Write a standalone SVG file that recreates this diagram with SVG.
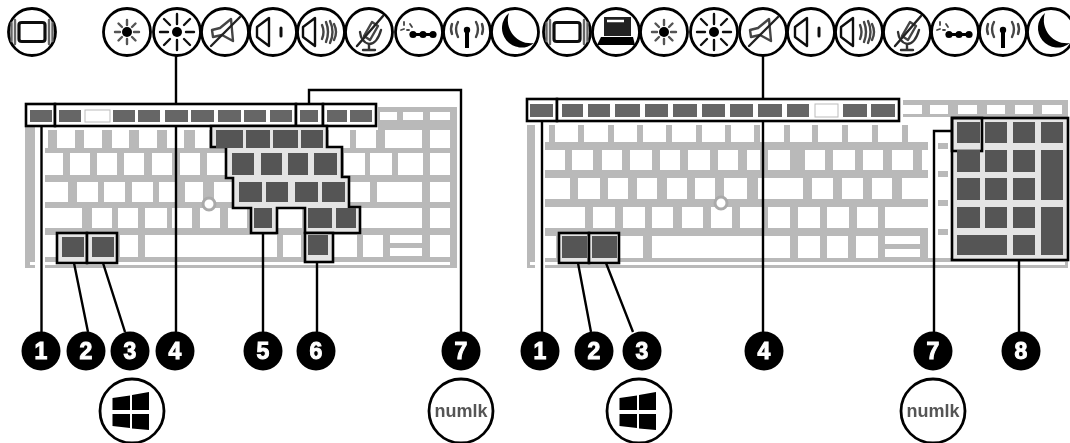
<svg xmlns="http://www.w3.org/2000/svg" xmlns:xlink="http://www.w3.org/1999/xlink" width="1070" height="443" viewBox="0 0 1070 443">
<style>
.g{fill:#b9b9b9}.k{fill:#fff}.d{fill:#555}.f{fill:#666}
.box{fill:#e4e4e4;stroke:#000;stroke-width:2.6}
.con{fill:none;stroke:#000;stroke-width:2.4}
.ring{fill:#fff;stroke:#000;stroke-width:2.8}
.ln{fill:none;stroke:#111;stroke-width:2.4;stroke-linecap:round;stroke-linejoin:round}
.badge{fill:#000}
.num{font-family:"Liberation Sans",Arial,sans-serif;font-weight:700;font-size:23px;fill:#fff;stroke:#fff;stroke-width:1;text-anchor:middle}
.lk{font-family:"Liberation Sans",Arial,sans-serif;font-weight:700;font-size:18px;fill:#555;text-anchor:middle}
</style>
<defs>
<filter id="soft" x="0" y="0" width="100%" height="100%" filterUnits="userSpaceOnUse" primitiveUnits="userSpaceOnUse"><feGaussianBlur stdDeviation="0.6"/></filter>
<g id="i-base"><circle r="23.5" class="ring"/></g>
<g id="i-display"><use href="#i-base"/><rect x="-13" y="-9.500" width="26" height="19" rx="2.500" class="ln" style="stroke-width:3.2"/><path d="M-17-12V12M-20.500-9V9M17-12V12M20.500-9V9" class="ln" style="stroke:#666"/></g>
<g id="i-laptop"><use href="#i-base"/><path d="M-12-15H15V4H-12Z" fill="#222"/><path d="M-9-11H8" stroke="#fff" stroke-width="2.500"/><path d="M-15 5H17L19 13H-19Z" fill="#000"/></g>
<g id="i-sunlo"><use href="#i-base"/><circle r="5" fill="#000"/><path d="M0-7V-12M0 7V12M-7 0H-12M7 0H12M-5-5L-8.500-8.500M5 5L8.500 8.500M5-5L8.500-8.500M-5 5L-8.500 8.500" class="ln" style="stroke:#555"/></g>
<g id="i-sunhi"><use href="#i-base"/><circle r="5" fill="#000"/><path d="M0-8V-18M0 8V18M-9 0H-17M9 0H17M-7-7L-13-13M7 7L13 13M7-7L13-13M-7 7L-13 13" class="ln"/></g>
<g id="i-mute"><use href="#i-base"/><path d="M-13-2L-5-4L6-13L8 9L-3 3L-12 5Z" class="ln" style="stroke:#444"/><path d="M-14 14L15-15" class="ln" style="stroke:#222"/></g>
<g id="i-vold"><use href="#i-base"/><path d="M-16-5L-4-14V14L-16 5Z" class="ln"/><path d="M8-4V4" class="ln" style="stroke-width:3"/></g>
<g id="i-volu"><use href="#i-base"/><path d="M-18-5L-6-14V14L-18 5Z" class="ln"/><path d="M1-7Q4 0 1 7M5-10Q9 0 5 10M9-11Q14 0 9 11M13-8Q17 0 13 8" class="ln" style="stroke:#444"/></g>
<g id="i-mic"><use href="#i-base"/><path d="M-5 4L3-10L9-6L1 8Z" class="ln" style="stroke:#444"/><path d="M-9 0Q-8 10 0 12Q8 12 12-2M0 12V17M-6 18H6" class="ln" style="stroke:#333"/><path d="M-12 14L14-16" class="ln" style="stroke:#222"/></g>
<g id="i-kbd"><use href="#i-base"/><circle cx="-6" cy="2.500" r="3.600"/><circle cx="4" cy="2.500" r="3.600"/><circle cx="14" cy="2.500" r="3.600"/><path d="M-6 2.500H14" stroke="#000" stroke-width="3"/><path d="M-9-8L-7-5M-15-10L-15-7M-18-2L-15-3M-12-2L-10-2" class="ln" style="stroke:#444;stroke-width:1.800"/></g>
<g id="i-wifi"><use href="#i-base"/><circle cy="-2" r="3.200" fill="#000"/><path d="M0 0V16" stroke="#000" stroke-width="4"/><path d="M-9-10Q-13-3-9 5M-15-8Q-17-3-15 2M9-10Q13-3 9 5M15-8Q17-3 15 2" class="ln" style="stroke:#444"/></g>
<g id="i-moon"><use href="#i-base"/><path d="M-6-19A19.500 19.500 0 1 0 19 11A23 23 0 0 1-6-19Z" fill="#000"/></g>
<g id="i-win"><circle r="32" class="ring"/><path d="M-19.500-13L-2-15.500V-1H-19.500ZM0-16L17-19V-1H0ZM-19.500 3H-2V17L-19.500 15ZM0 3H17V19L0 17.500Z" fill="#000"/></g>
<g id="i-numlk"><circle r="32" class="ring"/><text y="6" class="lk">numlk</text></g>
</defs>
<rect width="1070" height="443" fill="#fff"/>
<g filter="url(#soft)">
<g id="keyboard-left">
<rect class="g" x="25" y="125" width="10" height="143"/>
<rect class="g" x="45" y="130" width="412" height="138"/>
<rect class="g" x="378" y="107" width="79" height="23"/>
<rect class="k" x="30" y="262" width="420" height="3"/>
<path class="k" d="M380 112h17v8h-17zM403 112h20v8h-20zM430 112h20v8h-20zM37 130h11v18h-11zM57 130h18v18h-18zM84 130h18v18h-18zM112 130h17v18h-17zM139 130h18v18h-18zM167 130h17v18h-17zM195 130h14v18h-14zM329 130h21v18h-21zM356 130h20v18h-20zM385 130h37v18h-37zM430 130h20v18h-20z"/>
<path class="k" d="M37 153h26v22h-26zM70 153h20v22h-20zM97 153h20v22h-20zM124 153h20v22h-20zM152 153h20v22h-20zM180 153h20v22h-20zM207 153h18v22h-18zM344 153h21v22h-21zM370 153h22v22h-22zM398 153h25v22h-25zM430 153h20v22h-20z"/>
<path class="k" d="M37 182h31v20h-31zM77 182h21v20h-21zM104 182h21v20h-21zM132 182h21v20h-21zM159 182h18v20h-18zM185 182h18v20h-18zM214 182h18v20h-18zM350 182h20v20h-20zM377 182h45v20h-45zM430 182h20v20h-20z"/>
<path class="k" d="M37 208h45v20h-45zM92 208h20v20h-20zM118 208h20v20h-20zM145 208h22v20h-22zM172 208h20v20h-20zM200 208h20v20h-20zM228 208h19v20h-19zM278 208h24v20h-24zM360 208h62v20h-62zM430 208h20v20h-20z"/>
<path class="k" d="M37 235h20v22h-20zM120 235h18v22h-18zM145 235h132v22h-132zM283 235h18v22h-18zM333 235h24v22h-24zM363 235h20v22h-20zM390 235h32v8h-32zM390 248h32v8h-32zM430 235h20v22h-20z"/>
<circle cx="209" cy="204" r="6" fill="#fff" stroke="#aaa" stroke-width="3"/>
<rect class="box" x="26" y="104" width="29" height="22" style="fill:#fff"/><rect class="box" x="55" y="104" width="241" height="22" style="fill:#fff"/><rect class="box" x="296" y="104" width="27" height="22" style="fill:#fff"/><rect class="box" x="323" y="104" width="53" height="22" style="fill:#fff"/>
<path class="box" d="M211 126V147H226V178H233V208H251V233H277V208H305V233H360V207H349V177H342V147H327V126Z"/>
<rect class="box" x="305" y="233" width="28" height="29"/>
<rect class="box" x="57" y="233" width="30" height="30"/><rect class="box" x="87" y="233" width="30" height="30"/>
<path class="f" d="M30 110h22v12h-22zM59 110h22v12h-22zM113 110h22v12h-22zM138 110h22v12h-22zM165 110h23v12h-23zM191 110h23v12h-23zM218 110h23v12h-23zM244 110h22v12h-22zM270 110h22v12h-22zM300 110h18v12h-18zM327 110h20v12h-20zM350 110h22v12h-22z"/>
<rect x="85" y="110" width="25" height="12" fill="#fff" stroke="#bbb"/>
<path class="d" d="M216 130h27v18h-27zM246 130h24v18h-24zM273 130h25v18h-25zM301 130h22v18h-22zM232 153h22v22h-22zM261 153h21v22h-21zM288 153h20v22h-20zM314 153h23v22h-23zM239 182h23v20h-23zM266 182h22v20h-22zM295 182h23v20h-23zM322 182h23v20h-23zM254 208h18v20h-18zM308 208h24v20h-24zM336 208h20v20h-20zM308 235h20v20h-20zM62 237h22v20h-22zM92 237h22v20h-22z"/>
</g>
<g id="keyboard-right">
<rect class="g" x="527" y="125" width="8" height="143"/>
<rect class="g" x="545" y="125" width="523" height="143"/>
<rect class="g" x="903" y="100" width="165" height="25"/>
<rect class="k" x="530" y="262" width="535" height="3"/>
<path class="k" d="M903 105h19v9h-19zM930 105h18v9h-18zM958 105h19v9h-19zM987 105h18v9h-18zM1015 105h18v9h-18zM1042 105h20v9h-20zM903 117h49v8h-49z"/>
<path class="k" d="M536 125h13v17h-13zM555 125h23v17h-23zM584 125h24v17h-24zM614 125h23v17h-23zM643 125h23v17h-23zM672 125h24v17h-24zM702 125h23v17h-23zM731 125h23v17h-23zM760 125h24v17h-24zM790 125h22v17h-22zM818 125h24v17h-24zM848 125h24v17h-24zM878 125h24v17h-24zM908 125h44v17h-44z"/>
<path class="k" d="M536 150h29v20h-29zM572 150h21v20h-21zM602 150h20v20h-20zM630 150h22v20h-22zM660 150h20v20h-20zM688 150h22v20h-22zM718 150h20v20h-20zM747 150h13v20h-13zM768 150h22v20h-22zM805 150h20v20h-20zM833 150h22v20h-22zM863 150h20v20h-20zM892 150h21v20h-21zM922 150h14v20h-14z"/>
<path class="k" d="M536 178h34v21h-34zM578 178h22v21h-22zM608 178h20v21h-20zM637 178h20v21h-20zM667 178h20v21h-20zM695 178h20v21h-20zM724 178h23v21h-23zM758 178h45v21h-45zM812 178h21v21h-21zM842 178h21v21h-21zM872 178h20v21h-20zM902 178h26v21h-26z"/>
<path class="k" d="M536 207h49v21h-49zM593 207h22v21h-22zM623 207h22v21h-22zM652 207h21v21h-21zM682 207h21v21h-21zM711 207h21v21h-21zM740 207h22v21h-22zM768 207h22v21h-22zM798 207h22v21h-22zM827 207h22v21h-22zM857 207h21v21h-21zM885 207h43v21h-43z"/>
<path class="k" d="M536 236h20v22h-20zM620 236h23v22h-23zM652 236h138v22h-138zM798 236h22v22h-22zM827 236h21v22h-21zM856 236h22v22h-22zM885 236h35v8h-35zM885 249h35v8h-35z"/>
<rect class="k" x="928" y="125" width="24" height="133"/>
<path class="g" d="M938 143h10v6h-10zM938 171h10v6h-10zM938 200h10v6h-10zM938 229h10v6h-10zM922 228h6v30h-6z"/>
<circle cx="721" cy="203" r="6" fill="#fff" stroke="#aaa" stroke-width="3"/>
<rect class="box" x="527" y="99" width="30" height="22" style="fill:#fff"/><rect class="box" x="557" y="99" width="342" height="22" style="fill:#fff"/>
<rect class="box" x="952" y="118" width="116" height="142"/>
<rect class="box" x="952" y="118" width="30" height="33" style="fill:none"/>
<rect class="box" x="559" y="233" width="30" height="30"/><rect class="box" x="589" y="233" width="30" height="30"/>
<path class="f" d="M530 104h23v13h-23zM562 104h21v13h-21zM588 104h22v13h-22zM615 104h25v13h-25zM645 104h23v13h-23zM673 104h24v13h-24zM702 104h23v13h-23zM730 104h23v13h-23zM758 104h24v13h-24zM787 104h22v13h-22zM843 104h24v13h-24zM871 104h24v13h-24z"/>
<rect x="815" y="104" width="23" height="13" fill="#fff" stroke="#bbb"/>
<path class="d" d="M957 122h23v21h-23zM985 122h22v21h-22zM1013 122h22v21h-22zM1041 122h22v21h-22zM957 150h23v22h-23zM985 150h22v22h-22zM1013 150h22v22h-22zM1041 150h22v50h-22zM957 178h23v22h-23zM985 178h22v22h-22zM1013 178h22v22h-22zM957 207h23v21h-23zM985 207h22v21h-22zM1013 207h22v21h-22zM1041 207h22v48h-22zM957 235h50v20h-50zM1013 235h22v20h-22zM562 236h25v22h-25zM592 236h25v22h-25z"/>
</g>
<g id="connectors">
<path class="con" d="M176 55V104M176 126V332M41.500 126V332M74 263L88 332M103 263L125 332M263 233V332M317 262V332M309 104V90H461V332"/>
<path class="con" d="M763 55V99M763 121V332M542 121V332M578 263L591 332M606 263L633 332M952 131H934V332M1019 260V332"/>
</g>
<g id="icons-left">
<use id="icon-l-display" href="#i-display" x="32" y="32"/>
<use id="icon-l-sunlo" href="#i-sunlo" x="127" y="32"/>
<use id="icon-l-sunhi" href="#i-sunhi" x="177" y="32"/>
<use id="icon-l-mute" href="#i-mute" x="225" y="32"/>
<use id="icon-l-vold" href="#i-vold" x="273" y="32"/>
<use id="icon-l-volu" href="#i-volu" x="321" y="32"/>
<use id="icon-l-mic" href="#i-mic" x="369" y="32"/>
<use id="icon-l-kbd" href="#i-kbd" x="419" y="32"/>
<use id="icon-l-wifi" href="#i-wifi" x="467" y="32"/>
<use id="icon-l-moon" href="#i-moon" x="515" y="32"/>
</g>
<g id="icons-right">
<use id="icon-r-display" href="#i-display" x="567" y="32"/>
<use id="icon-r-laptop" href="#i-laptop" x="616" y="32"/>
<use id="icon-r-sunlo" href="#i-sunlo" x="664" y="32"/>
<use id="icon-r-sunhi" href="#i-sunhi" x="714" y="32"/>
<use id="icon-r-mute" href="#i-mute" x="763" y="32"/>
<use id="icon-r-vold" href="#i-vold" x="811" y="32"/>
<use id="icon-r-volu" href="#i-volu" x="859" y="32"/>
<use id="icon-r-mic" href="#i-mic" x="907" y="32"/>
<use id="icon-r-kbd" href="#i-kbd" x="955" y="32"/>
<use id="icon-r-wifi" href="#i-wifi" x="1003" y="32"/>
<use id="icon-r-moon" href="#i-moon" x="1051" y="32"/>
</g>
<g id="badge-l1"><circle class="badge" cx="41" cy="351" r="19.500"/><text class="num" x="41" y="359">1</text></g>
<g id="badge-l2"><circle class="badge" cx="86" cy="351" r="19.500"/><text class="num" x="86" y="359">2</text></g>
<g id="badge-l3"><circle class="badge" cx="130" cy="351" r="19.500"/><text class="num" x="130" y="359">3</text></g>
<g id="badge-l4"><circle class="badge" cx="175" cy="351" r="19.500"/><text class="num" x="175" y="359">4</text></g>
<g id="badge-l5"><circle class="badge" cx="263" cy="351" r="19.500"/><text class="num" x="263" y="359">5</text></g>
<g id="badge-l6"><circle class="badge" cx="316" cy="351" r="19.500"/><text class="num" x="316" y="359">6</text></g>
<g id="badge-l7"><circle class="badge" cx="461" cy="351" r="19.500"/><text class="num" x="461" y="359">7</text></g>
<g id="badge-r1"><circle class="badge" cx="540" cy="351" r="19.500"/><text class="num" x="540" y="359">1</text></g>
<g id="badge-r2"><circle class="badge" cx="594" cy="351" r="19.500"/><text class="num" x="594" y="359">2</text></g>
<g id="badge-r3"><circle class="badge" cx="642" cy="351" r="19.500"/><text class="num" x="642" y="359">3</text></g>
<g id="badge-r4"><circle class="badge" cx="764" cy="351" r="19.500"/><text class="num" x="764" y="359">4</text></g>
<g id="badge-r7"><circle class="badge" cx="933" cy="351" r="19.500"/><text class="num" x="933" y="359">7</text></g>
<g id="badge-r8"><circle class="badge" cx="1021" cy="351" r="19.500"/><text class="num" x="1021" y="359">8</text></g>
<g id="icon-l-win"><use href="#i-win" x="132" y="411"/></g>
<g id="icon-l-numlk"><use href="#i-numlk" x="461" y="411"/></g>
<g id="icon-r-win"><use href="#i-win" x="639" y="411"/></g>
<g id="icon-r-numlk"><use href="#i-numlk" x="933" y="411"/></g>
</g>
</svg>
